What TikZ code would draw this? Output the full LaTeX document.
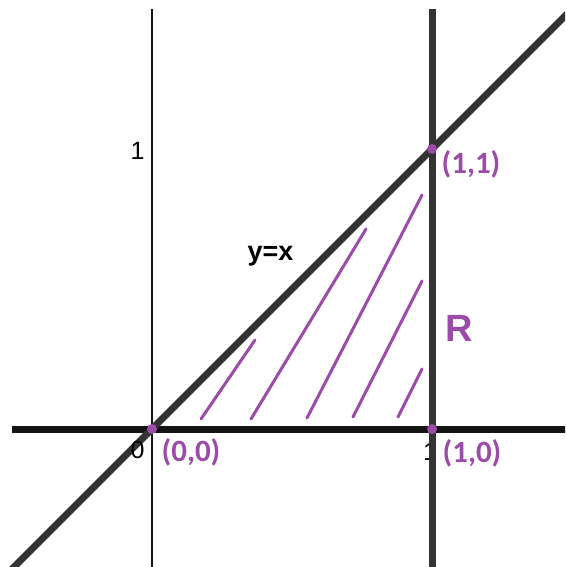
\documentclass[tikz,border=0pt]{standalone}
\usepackage{fontspec}
\setmainfont{Liberation Sans}
\newfontfamily\calib{Carlito}
\definecolor{pur}{RGB}{155,75,168}
\definecolor{dk}{RGB}{51,51,51}
\tikzset{
  thickline/.style={line width=7pt, draw=dk},
  axisline/.style={line width=7pt, draw=black!92},
  thinaxis/.style={line width=2.6pt, draw=black!92},
  hatch/.style={line width=3pt, draw=pur, line cap=round},
  ptdot/.style={circle, fill=pur, inner sep=0pt, minimum size=10pt},
  ptlabel/.style={text=pur, font=\calib\bfseries\fontsize{31}{31}\selectfont, anchor=base, inner sep=0pt},
  ticklabel/.style={text=black, font=\fontsize{25}{25}\selectfont, anchor=base, inner sep=0pt}
}
\begin{document}
\begin{tikzpicture}[x=1pt,y=-1pt]
\useasboundingbox (0,0) rectangle (565,567);
\clip (0,0) rectangle (565,567);
\coordinate (O) at (152,429);
\coordinate (A) at (432,429);
\coordinate (B) at (432,149);
\coordinate (ytop) at (152,9);
\coordinate (ybot) at (152,570);
\coordinate (xl) at (12,429);
\coordinate (xr) at (570,429);
\coordinate (vtop) at (432,9);
\coordinate (vbot) at (432,570);
\coordinate (dl) at (9,572);
\coordinate (dr) at (572,9);
% axes
\draw[thinaxis] (ytop) -- (ybot);
\draw[axisline] (xl) -- (xr);
% tick label under vertical line
\node[ticklabel] (t1x) at (430,460) {1};
% thick lines
\draw[thickline] (vtop) -- (vbot);
\draw[thickline] (dl) -- (dr);
% axis labels
\node[ticklabel] (t1y) at (137.5,159) {1};
\node[ticklabel] (t0) at (137.5,458) {0};
% hatching
\coordinate (h1a) at (201,419); \coordinate (h1b) at (255,340);
\coordinate (h2a) at (251,419); \coordinate (h2b) at (366,229);
\coordinate (h3a) at (307,418); \coordinate (h3b) at (422,195);
\coordinate (h4a) at (353,417); \coordinate (h4b) at (422,281);
\coordinate (h5a) at (398,417); \coordinate (h5b) at (422,369);
\draw[hatch] (h1a) -- (h1b);
\draw[hatch] (h2a) -- (h2b);
\draw[hatch] (h3a) -- (h3b);
\draw[hatch] (h4a) -- (h4b);
\draw[hatch] (h5a) -- (h5b);
% points
\node[ptdot] (pO) at (O) {};
\node[ptdot] (pA) at (A) {};
\node[ptdot] (pB) at (B) {};
% labels
\node[ptlabel] (lO) at (191,461) {(0,0)};
\node[ptlabel] (lA) at (472,462) {(1,0)};
\node[ptlabel] (lB) at (471,173) {(1,1)};
\node[text=black, font=\bfseries\fontsize{27}{27}\selectfont, anchor=base, inner sep=0pt] (lyx) at (270.5,260) {y=x};
\node[text=pur, font=\bfseries\fontsize{38}{38}\selectfont, anchor=base, inner sep=0pt] (lR) at (459.5,341) {R};
\end{tikzpicture}
\end{document}
